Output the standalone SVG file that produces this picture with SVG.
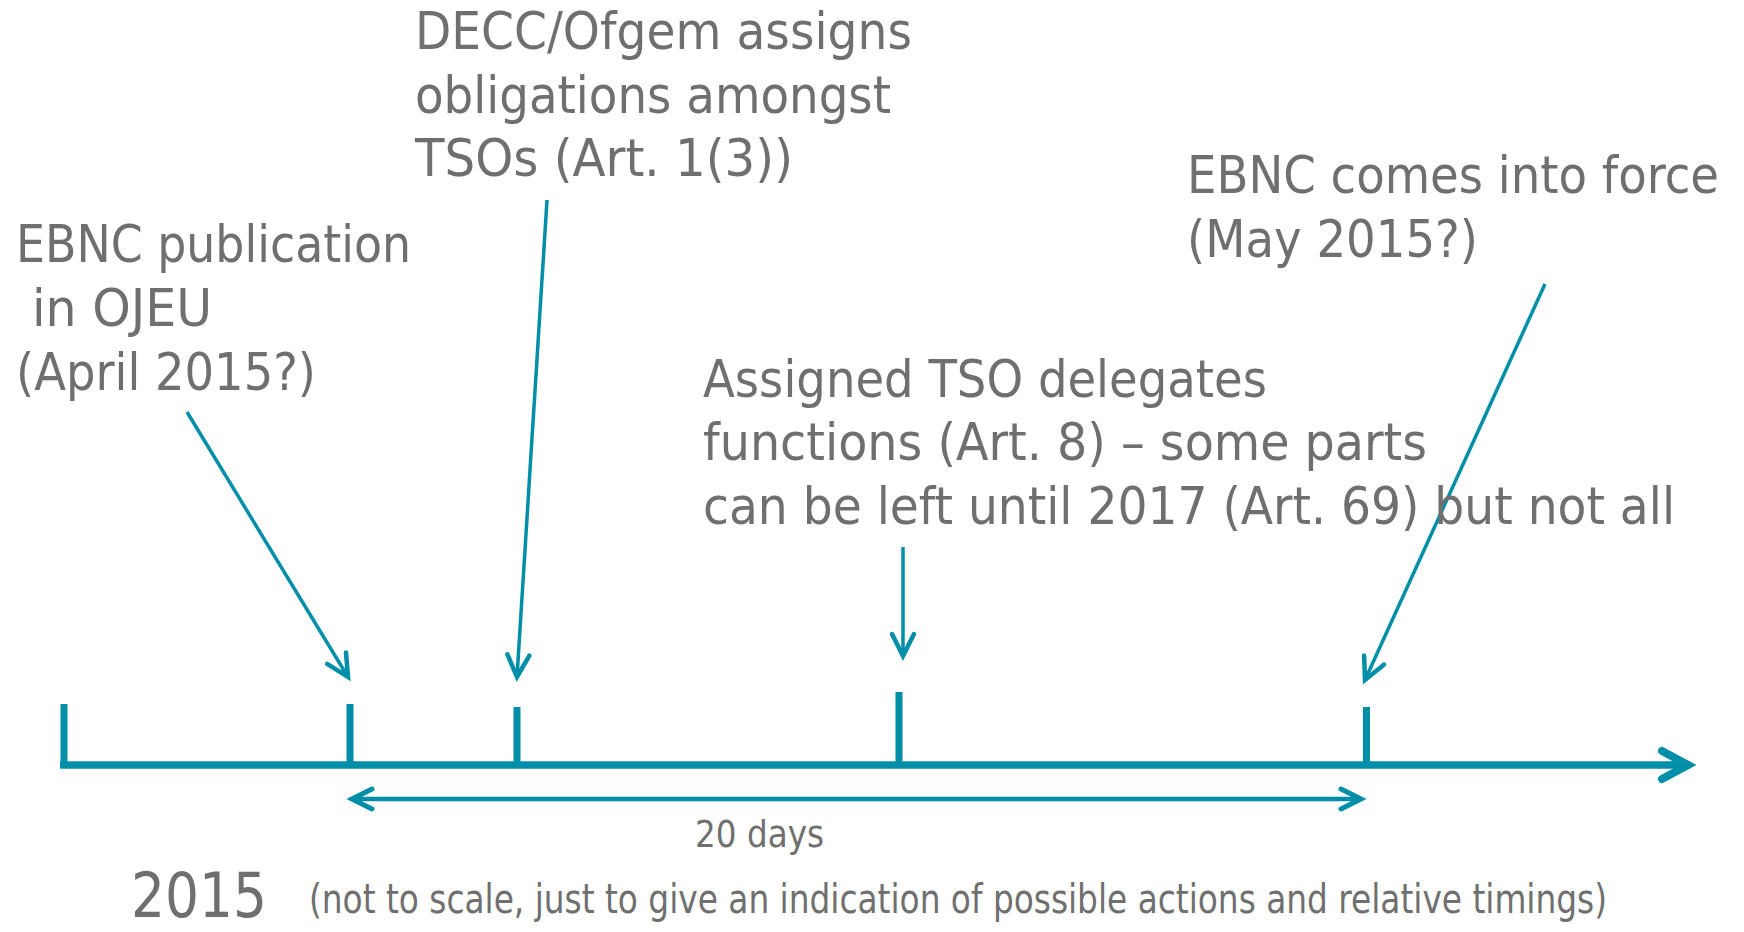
<svg xmlns="http://www.w3.org/2000/svg" width="1744" height="932" viewBox="0 0 1744 932">
  <style>
    .lbl { font-family: "DejaVu Sans Condensed", "DejaVu Sans", sans-serif; font-stretch: condensed; fill: #6f6f6f; }
    .big { font-size: 51px; }
    .axis { stroke: #008ea9; fill: none; }
    .tick { stroke: #008ea9; stroke-width: 7; }
    .call { stroke: #008ea9; stroke-width: 3.5; fill: none; }
  </style>
  <defs>
    <marker id="head-call" markerUnits="userSpaceOnUse" orient="auto" overflow="visible" markerWidth="1" markerHeight="1" refX="0" refY="0">
      <path d="M-22,-11 L0,0 L-22,11" fill="none" stroke="#008ea9" stroke-width="4.5" stroke-linecap="round" stroke-linejoin="miter"/>
    </marker>
    <marker id="head-span" markerUnits="userSpaceOnUse" orient="auto-start-reverse" overflow="visible" markerWidth="1" markerHeight="1" refX="0" refY="0">
      <path d="M-20,-10 L0,0 L-20,10" fill="none" stroke="#008ea9" stroke-width="5" stroke-linecap="round" stroke-linejoin="miter"/>
    </marker>
    <marker id="head-axis" markerUnits="userSpaceOnUse" orient="auto" overflow="visible" markerWidth="1" markerHeight="1" refX="0" refY="0">
      <path d="M-28,-14 L-2,0 L-28,14" fill="none" stroke="#008ea9" stroke-width="8" stroke-linecap="round" stroke-linejoin="miter"/>
    </marker>
  </defs>

  <!-- timeline axis with ticks -->
  <g id="timeline">
    <line class="axis" x1="60" y1="765" x2="1690" y2="765" stroke-width="7.5" marker-end="url(#head-axis)"/>
    <line class="tick" x1="64" y1="704" x2="64" y2="768"/>
    <line class="tick" x1="350" y1="704" x2="350" y2="765"/>
    <line class="tick" x1="517" y1="707" x2="517" y2="765"/>
    <line class="tick" x1="899" y1="692" x2="899" y2="765"/>
    <line class="tick" x1="1366.5" y1="707" x2="1366.5" y2="765"/>
  </g>

  <!-- callout arrows and the 20-day span -->
  <g id="connectors">
    <line class="call" x1="187" y1="412" x2="348" y2="677" marker-end="url(#head-call)"/>
    <line class="call" x1="547" y1="200" x2="517" y2="677" marker-end="url(#head-call)"/>
    <line class="call" x1="903" y1="547" x2="903" y2="656" marker-end="url(#head-call)"/>
    <line class="call" x1="1545" y1="284" x2="1365" y2="680" marker-end="url(#head-call)"/>
    <line class="axis" x1="352" y1="799" x2="1361" y2="799" stroke-width="4.5" marker-start="url(#head-span)" marker-end="url(#head-span)"/>
  </g>

  <g id="publication">
    <text class="lbl big" x="16" y="262" textLength="395" lengthAdjust="spacingAndGlyphs">EBNC publication</text>
    <text class="lbl big" x="32" y="326" textLength="180" lengthAdjust="spacingAndGlyphs">in OJEU</text>
    <text class="lbl big" x="16" y="390" textLength="300" lengthAdjust="spacingAndGlyphs">(April 2015?)</text>
  </g>

  <g id="assignment">
    <text class="lbl big" x="415" y="49" textLength="497" lengthAdjust="spacingAndGlyphs">DECC/Ofgem assigns</text>
    <text class="lbl big" x="415" y="113" textLength="476" lengthAdjust="spacingAndGlyphs">obligations amongst</text>
    <text class="lbl big" x="415" y="176" textLength="378" lengthAdjust="spacingAndGlyphs">TSOs (Art. 1(3))</text>
  </g>

  <g id="delegation">
    <text class="lbl big" x="703" y="397" textLength="564" lengthAdjust="spacingAndGlyphs">Assigned TSO delegates</text>
    <text class="lbl big" x="703" y="460" textLength="724" lengthAdjust="spacingAndGlyphs">functions (Art. 8) – some parts</text>
    <text class="lbl big" x="703" y="524" textLength="972" lengthAdjust="spacingAndGlyphs">can be left until 2017 (Art. 69) but not all</text>
  </g>

  <g id="in-force">
    <text class="lbl big" x="1187" y="193" textLength="532" lengthAdjust="spacingAndGlyphs">EBNC comes into force</text>
    <text class="lbl big" x="1187" y="257" textLength="291" lengthAdjust="spacingAndGlyphs">(May 2015?)</text>
  </g>

  <g id="span-label">
    <text class="lbl" x="695" y="847" font-size="38" textLength="129" lengthAdjust="spacingAndGlyphs">20 days</text>
  </g>

  <g id="footer">
    <text class="lbl" x="131" y="917" font-size="62" textLength="136" lengthAdjust="spacingAndGlyphs">2015</text>
    <text class="lbl" x="309" y="913" font-size="40" textLength="1298" lengthAdjust="spacingAndGlyphs">(not to scale, just to give an indication of possible actions and relative timings)</text>
  </g>
</svg>
